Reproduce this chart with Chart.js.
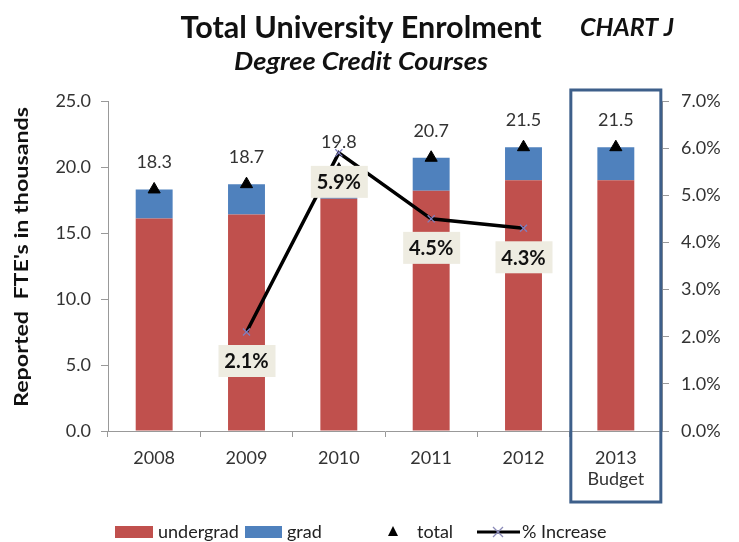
<!DOCTYPE html>
<html><head><meta charset="utf-8">
<script src="https://cdn.jsdelivr.net/npm/chart.js@4.4.1/dist/chart.umd.min.js"></script>
<style>html,body{margin:0;padding:0;background:#fff;}#wrap{width:739px;height:542px;}</style>
</head><body><div id="wrap"><canvas id="c" width="739" height="542"></canvas></div>
<script>
const categories = ["2008", "2009", "2010", "2011", "2012", ["2013", "Budget"]];
const undergrad = [16.1, 16.4, 17.6, 18.2, 19.0, 19.0];
const grad = [2.2, 2.3, 2.2, 2.5, 2.5, 2.5];
const total = [18.3, 18.7, 19.8, 20.7, 21.5, 21.5];
const pctIncrease = [null, 2.1, 5.9, 4.5, 4.3, null];
const leftAxis = {min: 0, max: 25, step: 5};
const rightAxis = {min: 0, max: 7, step: 1};
const titleText = "Total University Enrolment";
const chartTag = "CHART J";
const subtitleText = "Degree Credit Courses";
const yTitleText = "Reported  FTE's in thousands";

const FONT = "Lato, 'Open Sans', sans-serif";
const RED = '#c0504d', BLUE = '#4f81bd';

function fitText(ctx, text, cx, cy, targetW, font, color, align) {
  ctx.save();
  ctx.font = font;
  const w = ctx.measureText(text).width;
  const s = targetW / w;
  ctx.translate(cx, cy);
  ctx.scale(s, 1);
  ctx.textAlign = align || 'center';
  ctx.textBaseline = 'middle';
  ctx.fillStyle = color;
  ctx.fillText(text, 0, 0);
  ctx.restore();
}

const decorPlugin = {
  id: 'decor',
  afterDatasetsDraw(chart) {
    const ctx = chart.ctx;
    const xs = chart.scales.x;
    // 2013 budget box
    const cx = xs.getPixelForValue(5);
    ctx.save();
    ctx.strokeStyle = '#3d5f8a';
    ctx.lineWidth = 3;
    ctx.strokeRect(cx - 45, 90, 90, 412);
    ctx.restore();
    // total labels
    const mt = chart.getDatasetMeta(2);
    ctx.save();
    ctx.font = '18px ' + FONT;
    ctx.fillStyle = '#333';
    ctx.textAlign = 'center';
    ctx.textBaseline = 'middle';
    mt.data.forEach((p, i) => {
      ctx.fillText(total[i].toFixed(1), p.x, p.y - 27);
    });
    ctx.restore();
    // pct labels
    const mp = chart.getDatasetMeta(3);
    ctx.save();
    mp.data.forEach((p, i) => {
      if (pctIncrease[i] == null) return;
      const by = p.y + 29;
      ctx.fillStyle = '#eeece1';
      ctx.fillRect(p.x - 28, by - 16, 57, 32);
      ctx.font = 'bold 20px ' + FONT;
      ctx.fillStyle = '#111';
      ctx.textAlign = 'center';
      ctx.textBaseline = 'middle';
      ctx.fillText(pctIncrease[i].toFixed(1) + '%', p.x, by + 1);
    });
    ctx.restore();
  },
  afterDraw(chart) {
    const ctx = chart.ctx;
    fitText(ctx, titleText, 361, 28, 361, 'bold 30px ' + FONT, '#111');
    fitText(ctx, chartTag, 627, 28, 94, 'italic bold 25px ' + FONT, '#111');
    fitText(ctx, subtitleText, 361, 62, 254, 'italic bold 25px ' + FONT, '#111');
    // y title
    ctx.save();
    ctx.translate(22, 257);
    ctx.rotate(-Math.PI / 2);
    ctx.font = 'bold 19px ' + FONT;
    const w = ctx.measureText(yTitleText).width;
    ctx.scale(300 / w, 1);
    ctx.fillStyle = '#111';
    ctx.textAlign = 'center';
    ctx.textBaseline = 'middle';
    ctx.fillText(yTitleText, 0, 0);
    ctx.restore();
    // legend
    const ds = chart.data.datasets;
    const ly = 532;
    ctx.save();
    ctx.font = '18px ' + FONT;
    ctx.textBaseline = 'middle';
    ctx.textAlign = 'left';
    const lc = '#222';
    ctx.fillStyle = RED; ctx.fillRect(115, ly - 6, 38, 12);
    ctx.fillStyle = lc; ctx.fillText(ds[0].label, 158, ly);
    ctx.fillStyle = BLUE; ctx.fillRect(245, ly - 6, 37, 12);
    ctx.fillStyle = lc; ctx.fillText(ds[1].label, 287, ly);
    ctx.fillStyle = '#000';
    ctx.beginPath(); ctx.moveTo(393, ly - 6); ctx.lineTo(398, ly + 4); ctx.lineTo(388, ly + 4); ctx.closePath(); ctx.fill();
    ctx.fillStyle = lc; ctx.fillText(ds[2].label, 417, ly);
    ctx.strokeStyle = '#000'; ctx.lineWidth = 3;
    ctx.beginPath(); ctx.moveTo(477, ly); ctx.lineTo(520, ly); ctx.stroke();
    ctx.strokeStyle = '#8a8ab8'; ctx.lineWidth = 1.3;
    ctx.beginPath(); ctx.moveTo(493, ly - 5); ctx.lineTo(503, ly + 5); ctx.moveTo(503, ly - 5); ctx.lineTo(493, ly + 5); ctx.stroke();
    ctx.fillStyle = lc; ctx.fillText(ds[3].label, 522, ly);
    ctx.restore();
  }
};

function build() {
  new Chart(document.getElementById('c'), {
    data: {
      labels: categories,
      datasets: [
        {type: 'bar', label: 'undergrad', data: undergrad, backgroundColor: RED, stack: 'bars', order: 2, yAxisID: 'y', barPercentage: 0.4, categoryPercentage: 1.0},
        {type: 'bar', label: 'grad', data: grad, backgroundColor: BLUE, stack: 'bars', order: 2, yAxisID: 'y', barPercentage: 0.4, categoryPercentage: 1.0},
        {type: 'line', label: 'total', data: total, showLine: false, stack: 'tot', order: 1, yAxisID: 'y', pointStyle: 'triangle', pointRadius: 7, pointBackgroundColor: '#000', pointBorderColor: '#000', pointBorderWidth: 1},
        {type: 'line', label: '% Increase', data: pctIncrease, stack: 'pct', order: 0, yAxisID: 'y2', borderColor: '#000', borderWidth: 3.5, tension: 0, spanGaps: false, pointStyle: 'crossRot', pointRadius: 5, pointBorderColor: '#7f7fbf', pointBorderWidth: 1.3, pointBackgroundColor: '#7f7fbf'}
      ]
    },
    options: {
      responsive: false,
      animation: false,
      events: [],
      devicePixelRatio: 1,
      layout: {padding: {top: 101, left: 0, right: 0, bottom: 0}},
      plugins: {legend: {display: false}, tooltip: {enabled: false}, title: {display: false}},
      scales: {
        x: {
          type: 'category', stacked: true, offset: true,
          grid: {display: true, drawOnChartArea: false, drawTicks: true, tickLength: 6, color: '#999', offset: true},
          border: {display: true, color: '#999', width: 1},
          ticks: {font: {family: FONT, size: 18}, color: '#333', padding: 10, maxRotation: 0, autoSkip: false},
          afterFit(s) { s.height = 111; }
        },
        y: {
          type: 'linear', position: 'left', stacked: true,
          min: leftAxis.min, max: leftAxis.max,
          grid: {drawOnChartArea: false, drawTicks: true, tickLength: 7, color: '#999'},
          border: {display: true, color: '#999', width: 1},
          ticks: {stepSize: leftAxis.step, font: {family: FONT, size: 18}, color: '#333', padding: 10, callback: v => v.toFixed(1)},
          afterFit(s) { s.width = 108; }
        },
        y2: {
          type: 'linear', position: 'right',
          min: rightAxis.min, max: rightAxis.max,
          grid: {drawOnChartArea: false, drawTicks: true, tickLength: 7, color: '#999'},
          border: {display: true, color: '#999', width: 1},
          ticks: {stepSize: rightAxis.step, font: {family: FONT, size: 18}, color: '#333', padding: 12, callback: v => v.toFixed(1) + '%'},
          afterFit(s) { s.width = 77; }
        }
      }
    },
    plugins: [decorPlugin]
  });
}

const fontLoads = ['18px Lato', 'bold 20px Lato', 'italic bold 25px Lato', 'bold 30px Lato'].map(f => document.fonts.load(f).catch(() => null));
Promise.race([Promise.all(fontLoads), new Promise(r => setTimeout(r, 1500))]).then(build, build);
</script>
</body></html>
